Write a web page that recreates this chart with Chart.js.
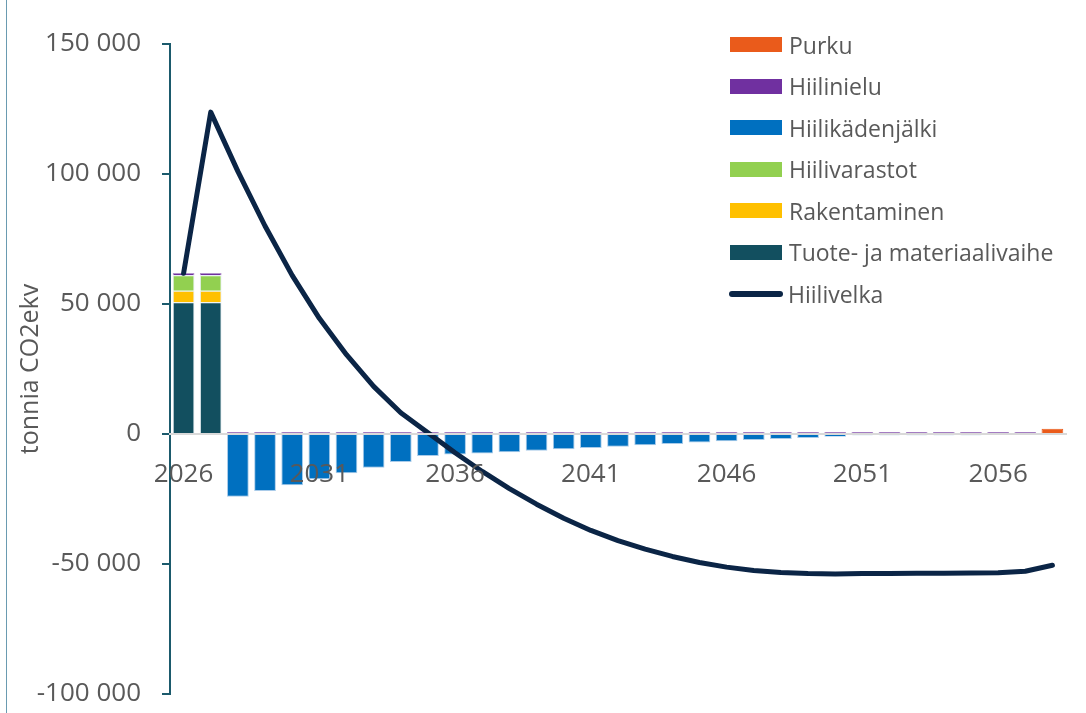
<!DOCTYPE html>
<html lang="fi">
<head>
<meta charset="utf-8">
<title>Hiilivelka</title>
<script src="https://cdn.jsdelivr.net/npm/chart.js@4/dist/chart.umd.min.js"></script>
<style>
  html, body { margin: 0; padding: 0; background: #fff; }
  #wrap { position: relative; width: 1086px; height: 713px; overflow: hidden; }
  #edge { position: absolute; left: 6px; top: 0; width: 1px; height: 713px; background: #6a9bb1; }
  #legend { position: absolute; left: 730px; top: 24px; font-family: "Open Sans", sans-serif; font-size: 23px; color: #595959; }
  #legend .row { height: 41.5px; display: flex; align-items: center; white-space: nowrap; }
  #legend .box { width: 52px; height: 15px; margin-right: 7px; }
  #legend .ln { width: 54px; height: 6px; border-radius: 3px; margin-right: 5px; margin-left: -1px; }
</style>
</head>
<body>
<div id="wrap">
  <canvas id="velkaChart" width="1086" height="713"></canvas>
  <div id="edge"></div>
  <div id="legend"></div>
</div>
<script>
// vuodet ja sarjat (tonnia CO2ekv)
const years = ['2026','2027','2028','2029','2030','2031','2032','2033','2034','2035',
  '2036','2037','2038','2039','2040','2041','2042','2043','2044','2045','2046',
  '2047','2048','2049','2050','2051','2052','2053','2054','2055','2056','2057','2058'];

const tuote = [50700, 50700, 0, 0, 0, 0, 0, 0, 0, 0, 0, 0, 0, 0, 0, 0, 0,
  0, 0, 0, 0, 0, 0, 0, 0, 0, 0, 0, 0, 0, 0, 0, 0];
const rakentaminen = [4400, 4400, 0, 0, 0, 0, 0, 0, 0, 0, 0, 0, 0, 0, 0, 0, 0,
  0, 0, 0, 0, 0, 0, 0, 0, 0, 0, 0, 0, 0, 0, 0, 0];
const varastot = [6000, 6000, 0, 0, 0, 0, 0, 0, 0, 0, 0, 0, 0, 0, 0, 0, 0,
  0, 0, 0, 0, 0, 0, 0, 0, 0, 0, 0, 0, 0, 0, 0, 0];
const kadenjalki = [0, 0, -24100, -21900, -19700, -17400, -15100, -13000, -10800, -8500,
  -7900, -7500, -7000, -6400, -5900, -5400, -4900, -4300, -3800, -3300, -2800,
  -2300, -1900, -1500, -1100, -500, -500, -500, -500, -500, -400, 0, 0];
const nielu = [800, 800, 800, 800, 800, 800, 800, 800, 800, 800, 800, 800, 800, 800,
  800, 800, 800, 800, 800, 800, 800, 800, 800, 800, 800, 800, 800, 800, 800, 800,
  800, 800, 0];
const purku = [0, 0, 0, 0, 0, 0, 0, 0, 0, 0, 0, 0, 0, 0, 0, 0, 0,
  0, 0, 0, 0, 0, 0, 0, 0, 0, 0, 0, 0, 0, 0, 0, 2000];
const velka = [61800, 123800, 101000, 80000, 61000, 44500, 30500, 18300, 8200, 500,
  -7200, -14400, -21000, -27000, -32400, -37100, -41000, -44300, -47100, -49400, -51200,
  -52500, -53300, -53700, -53800, -53700, -53700, -53600, -53600, -53500, -53400, -52800, -50500];

const yTicks = [-100000, -50000, 0, 50000, 100000, 150000];

const textColor = '#595959';
const axisColor = '#1b5a6c';
const fontFamily = '"Open Sans", sans-serif';

function fmt(v) {
  // välilyönti tuhaterottimena
  const s = Math.abs(v).toString().replace(/\B(?=(\d{3})+(?!\d))/g, ' ');
  return (v < 0 ? '-' : '') + s;
}

function barSet(label, data, color, border) {
  return {
    type: 'bar',
    label: label,
    data: data,
    backgroundColor: color,
    borderColor: border,
    borderWidth: 1,
    stack: 'paastot',
    order: 1,
    barPercentage: 0.8,
    categoryPercentage: 1
  };
}

const datasets = [
  barSet('Tuote- ja materiaalivaihe', tuote, '#124f5f', 'rgba(225,235,240,0.9)'),
  barSet('Rakentaminen', rakentaminen, '#ffc000', 'rgba(225,235,240,0.9)'),
  barSet('Hiilivarastot', varastot, '#92d050', 'rgba(225,235,240,0.9)'),
  barSet('Hiilikädenjälki', kadenjalki, '#0070c0', '#a9cbe9'),
  barSet('Hiilinielu', nielu, '#7030a0', 'rgba(160,120,190,0.8)'),
  barSet('Purku', purku, '#ea5b1b', '#ea5b1b'),
  {
    type: 'line',
    label: 'Hiilivelka',
    data: velka,
    borderColor: '#0b2546',
    borderWidth: 5,
    borderCapStyle: 'round',
    borderJoinStyle: 'round',
    tension: 0,
    pointRadius: 0,
    fill: false,
    stack: 'velka',
    order: 0
  }
];

const chart = new Chart(document.getElementById('velkaChart'), {
  data: { labels: years, datasets: datasets },
  options: {
    responsive: false,
    animation: false,
    layout: { padding: { left: 0, right: 20, top: 44, bottom: 19 } },
    plugins: {
      legend: { display: false },
      tooltip: { enabled: false }
    },
    scales: {
      x: {
        stacked: true,
        position: { y: 0 },
        afterFit: function (scale) {
          scale.paddingTop = 0;
          scale.paddingBottom = 0;
        },
        grid: { display: false, drawTicks: false },
        border: { display: true, color: '#d9d9d9', width: 2, z: 1 },
        ticks: {
          z: 1,
          autoSkip: false,
          maxRotation: 0,
          padding: 25,
          color: textColor,
          font: { family: fontFamily, size: 26 },
          callback: function (value, index) {
            return index % 5 === 0 ? years[index] : '';
          }
        }
      },
      y: {
        stacked: true,
        min: -100000,
        max: 150000,
        afterBuildTicks: function (scale) {
          scale.ticks = yTicks.map(v => ({ value: v }));
        },
        afterFit: function (scale) {
          scale.width = 170;
          scale.paddingTop = 0;
          scale.paddingBottom = 0;
        },
        grid: { drawOnChartArea: false, color: axisColor, tickLength: 8, lineWidth: 2 },
        border: { display: true, color: axisColor, width: 2 },
        ticks: {
          padding: 21,
          color: textColor,
          font: { family: fontFamily, size: 26 },
          callback: function (value) { return fmt(value); }
        },
        title: {
          display: true,
          text: 'tonnia CO2ekv',
          color: textColor,
          padding: { top: 16, bottom: 0 },
          font: { family: fontFamily, size: 25 }
        }
      }
    }
  }
});

// selite: pylväät ylhäältä alas, viiva viimeisenä
const legendEl = document.getElementById('legend');
const legendOrder = ['Purku', 'Hiilinielu', 'Hiilikädenjälki', 'Hiilivarastot',
  'Rakentaminen', 'Tuote- ja materiaalivaihe', 'Hiilivelka'];
legendOrder.forEach(name => {
  const ds = chart.data.datasets.find(d => d.label === name);
  const row = document.createElement('div');
  row.className = 'row';
  const mark = document.createElement('span');
  if (ds.type === 'line') {
    mark.className = 'ln';
    mark.style.background = ds.borderColor;
  } else {
    mark.className = 'box';
    mark.style.background = ds.backgroundColor;
  }
  const txt = document.createElement('span');
  txt.textContent = name;
  row.appendChild(mark);
  row.appendChild(txt);
  legendEl.appendChild(row);
});
</script>
</body>
</html>
